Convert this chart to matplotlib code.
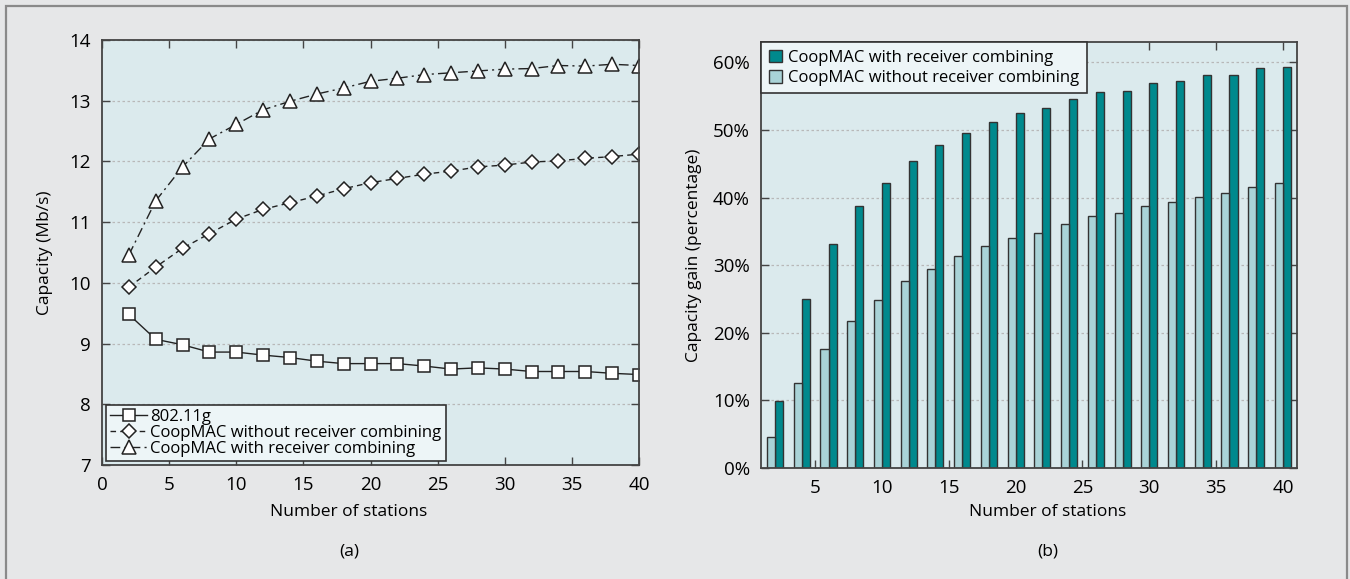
import matplotlib
matplotlib.use("Agg")
import matplotlib.pyplot as plt
from matplotlib.patches import Rectangle
from matplotlib.ticker import FuncFormatter

plt.rcParams["font.family"] = ["Open Sans", "DejaVu Sans"]

stations = [2, 4, 6, 8, 10, 12, 14, 16, 18, 20, 22, 24, 26, 28, 30, 32, 34, 36, 38, 40]

# (a) capacity, Mb/s
cap_80211g = [9.48, 9.07, 8.98, 8.86, 8.86, 8.81, 8.77, 8.71, 8.67, 8.67,
              8.67, 8.63, 8.58, 8.60, 8.58, 8.54, 8.54, 8.54, 8.51, 8.49]
cap_without = [9.93, 10.26, 10.57, 10.81, 11.05, 11.21, 11.32, 11.43, 11.55, 11.65,
               11.72, 11.79, 11.84, 11.91, 11.94, 11.99, 12.01, 12.05, 12.08, 12.12]
cap_with = [10.46, 11.35, 11.91, 12.37, 12.61, 12.85, 12.99, 13.11, 13.21, 13.32,
            13.37, 13.43, 13.46, 13.49, 13.52, 13.53, 13.58, 13.57, 13.60, 13.58]

# (b) capacity gain, percent
gain_with = [9.9, 25.0, 33.1, 38.7, 42.1, 45.4, 47.7, 49.6, 51.1, 52.5,
             53.2, 54.6, 55.6, 55.8, 56.9, 57.2, 58.1, 58.1, 59.1, 59.3]
gain_without = [4.6, 12.6, 17.6, 21.7, 24.9, 27.7, 29.4, 31.4, 32.8, 34.0,
                34.8, 36.1, 37.3, 37.7, 38.8, 39.4, 40.1, 40.6, 41.6, 42.2]

W, H = 1350, 579
BG = "#e6e7e8"
AXBG = "#dbeaed"
LEGBG = "#edf5f7"
TEAL = "#00898d"
LIGHT = "#a9d3d7"
INK = "#222222"
FS = 12.5       # axis labels
TFS = 13.5      # tick labels
LFS = 12        # legends


def px(x0, y0, x1, y1):
    return [x0 / W, 1 - y1 / H, (x1 - x0) / W, (y1 - y0) / H]


def style(ax):
    ax.set_facecolor(AXBG)
    for s in ax.spines.values():
        s.set_color("#444444"); s.set_linewidth(1.3)
    ax.tick_params(direction="in", length=6, width=1, color="#444444",
                   top=True, right=True, labelsize=TFS, pad=8)
    ax.yaxis.grid(True, ls=(0, (2, 2)), color="#b8b8b8", lw=0.9)
    ax.set_axisbelow(True)


def frame(leg):
    f = leg.get_frame()
    f.set_facecolor(LEGBG); f.set_edgecolor("#333333")
    f.set_linewidth(1.2); f.set_alpha(1)


fig = plt.figure(figsize=(W / 100, H / 100), dpi=100)
fig.patch.set_facecolor(BG)
fig.patches.append(Rectangle((6 / W, -0.05), (1347 - 6) / W, 1.05 - 6 / H,
                             transform=fig.transFigure, fill=False,
                             ec="#8a8a8a", lw=1.6))

# ---------- (a) ----------
ax1 = fig.add_axes(px(102, 40, 639, 465))
style(ax1)
mk = dict(mfc="white", mec=INK, mew=1.1, color=INK, lw=1.0)
ax1.plot(stations, cap_80211g, "-", marker="s", ms=8, label="802.11g", **mk)
ax1.plot(stations, cap_without, ls=(0, (4, 3)), marker="D", ms=7.5,
         label="CoopMAC without receiver combining", **mk)
ax1.plot(stations, cap_with, ls=(0, (7, 3, 1.5, 3)), marker="^", ms=9.5,
         label="CoopMAC with receiver combining", **mk)
ax1.set_xlim(0, 40); ax1.set_ylim(7, 14)
ax1.set_xticks(range(0, 41, 5)); ax1.set_yticks(range(7, 15))
ax1.set_ylabel("Capacity (Mb/s)", fontsize=FS, labelpad=12)
leg = ax1.legend(loc="lower left", fontsize=LFS, frameon=True, fancybox=False,
                 borderaxespad=0.25, labelspacing=0.0, handlelength=2.2,
                 handletextpad=0.2, borderpad=0.25)
frame(leg)
fig.text(349 / W, 1 - 512 / H, "Number of stations", ha="center", va="center", fontsize=FS)
fig.text(349 / W, 1 - 551 / H, "(a)", ha="center", va="center", fontsize=FS)

# ---------- (b) ----------
ax2 = fig.add_axes(px(761, 42, 1297, 468))
style(ax2)
bw = 0.6
bk = dict(width=bw, ec="#333333", lw=1.0)
ax2.bar([s + bw / 2 for s in stations], gain_with, color=TEAL,
        label="CoopMAC with receiver combining", **bk)
ax2.bar([s - bw / 2 for s in stations], gain_without, color=LIGHT,
        label="CoopMAC without receiver combining", **bk)
ax2.set_xlim(0.95, 41.05); ax2.set_ylim(0, 63)
ax2.set_xticks(range(5, 41, 5)); ax2.set_yticks(range(0, 61, 10))
ax2.yaxis.set_major_formatter(FuncFormatter(lambda v, p: f"{v:.0f}%"))
ax2.set_ylabel("Capacity gain (percentage)", fontsize=FS, labelpad=8)
leg2 = ax2.legend(loc="upper left", fontsize=LFS, frameon=True, fancybox=False,
                  borderaxespad=0, labelspacing=0.25, handlelength=0.8,
                  handleheight=0.8, handletextpad=0.4, borderpad=0.45)
frame(leg2)
fig.text(1048 / W, 1 - 512 / H, "Number of stations", ha="center", va="center", fontsize=FS)
fig.text(1048 / W, 1 - 551 / H, "(b)", ha="center", va="center", fontsize=FS)

fig.savefig("out.png", dpi=100, facecolor=BG)
